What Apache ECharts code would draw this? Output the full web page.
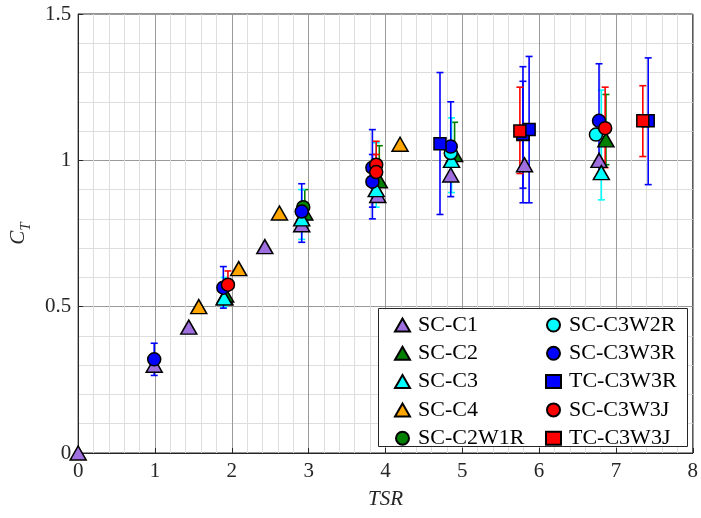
<!DOCTYPE html>
<html>
<head>
<meta charset="utf-8">
<script src="https://cdn.jsdelivr.net/npm/echarts@6/dist/echarts.min.js"></script>
<style>
  html, body { margin: 0; padding: 0; background: #fff; }
  #chart { width: 701px; height: 518px; }
</style>
</head>
<body>
<div id="chart"></div>
<script>
// [TSR, CT, low, high]  (low/high = error bar ends, null when no bar)
var scC1 = [[0, 0], [0.99, 0.30], [1.44, 0.43], [1.91, 0.53], [2.43, 0.705], [2.91, 0.78],
  [3.9, 0.88], [4.85, 0.95], [5.81, 0.985], [6.78, 1.0]];
var scC2 = [[1.92, 0.54, 0.51, 0.58], [2.95, 0.82, 0.77, 0.90], [3.92, 0.93, 0.88, 1.05],
  [4.9, 1.02, 0.985, 1.13], [6.87, 1.07, 0.985, 1.225]];
var scC3 = [[1.9, 0.53, 0.50, 0.60], [2.91, 0.80, 0.73, 0.90], [3.88, 0.90, 0.84, 1.06],
  [4.86, 1.0, 0.89, 1.145], [6.81, 0.958, 0.865, 1.24]];
var scC4 = [[1.57, 0.50], [2.09, 0.63], [2.62, 0.82], [4.19, 1.055]];
var scC2W1R = [[2.93, 0.84]];
var scC3W2R = [[4.85, 1.025], [6.74, 1.088]];
var scC3W3R = [[0.99, 0.32, 0.265, 0.375], [1.89, 0.565, 0.495, 0.637], [2.91, 0.825, 0.72, 0.92],
  [3.83, 0.975, 0.80, 1.105], [3.83, 0.927, 0.84, 1.02], [4.85, 1.047, 0.876, 1.20],
  [6.78, 1.135, 0.94, 1.33]];
var tcC3W3R = [[4.71, 1.057, 0.815, 1.30], [5.79, 1.088, 0.855, 1.32], [5.79, 1.09, 0.905, 1.27],
  [5.87, 1.105, 0.855, 1.355], [7.42, 1.135, 0.917, 1.35]];
var scC3W3J = [[1.95, 0.575, 0.53, 0.622], [3.88, 0.985, 0.89, 1.065], [3.88, 0.96, 0.90, 1.02],
  [6.86, 1.11, 0.975, 1.25]];
var tcC3W3J = [[5.75, 1.10, 0.955, 1.25], [7.35, 1.135, 1.013, 1.255]];

var names = ["SC-C1", "SC-C2", "SC-C3", "SC-C4", "SC-C2W1R", "SC-C3W2R", "SC-C3W3R", "TC-C3W3R", "SC-C3W3J", "TC-C3W3J"];
var sets = [scC1, scC2, scC3, scC4, scC2W1R, scC3W2R, scC3W3R, tcC3W3R, scC3W3J, tcC3W3J];
var colors = ["#9f6fe0", "#008000", "#00ffff", "#ffa500", "#008000", "#00ffff", "#0000ff", "#0000ff", "#ff0000", "#ff0000"];
var shapes = ["triangle", "triangle", "triangle", "triangle", "circle", "circle", "circle", "rect", "circle", "rect"];

var xTicks = [0, 1, 2, 3, 4, 5, 6, 7, 8];
var yTicks = [0, 0.5, 1, 1.5];

var font = "Liberation Serif";

function errBar(color) {
  return function (params, api) {
    var x = api.value(0);
    var top = api.coord([x, api.value(2)]);
    var bot = api.coord([x, api.value(1)]);
    var w = 3.5;
    var st = { stroke: color, lineWidth: 1.6, fill: null };
    return {
      type: "group",
      children: [
        { type: "line", shape: { x1: top[0], y1: top[1], x2: bot[0], y2: bot[1] }, style: st },
        { type: "line", shape: { x1: top[0] - w, y1: top[1], x2: top[0] + w, y2: top[1] }, style: st },
        { type: "line", shape: { x1: bot[0] - w, y1: bot[1], x2: bot[0] + w, y2: bot[1] }, style: st }
      ]
    };
  };
}

var series = [];
sets.forEach(function (d, i) {
  var bars = d.filter(function (p) { return p.length > 2; }).map(function (p) { return [p[0], p[2], p[3]]; });
  if (bars.length) {
    series.push({
      type: "custom",
      name: names[i] + " err",
      renderItem: errBar(colors[i]),
      data: bars,
      silent: true
    });
  }
  var size = shapes[i] === "triangle" ? [16, 14] : (shapes[i] === "rect" ? 12 : 13);
  series.push({
    type: "scatter",
    name: names[i],
    symbol: shapes[i],
    symbolSize: size,
    data: d.map(function (p) { return [p[0], p[1]]; }),
    itemStyle: { color: colors[i], borderColor: "#000", borderWidth: 1.5, opacity: 1 }
  });
});

var legendText = { fontFamily: font, fontSize: 22, color: "#000", lineHeight: 21, padding: [0, 0, 0, 3] };

var option = {
  animation: false,
  backgroundColor: "#fff",
  grid: { left: 76, top: 14, right: 4, bottom: 65, show: true, borderColor: "#262626", borderWidth: 1 },
  xAxis: {
    type: "value", min: 0, max: 8, interval: 1,
    name: "TSR", nameLocation: "middle", nameGap: 36,
    nameTextStyle: { fontFamily: font, fontSize: 21, fontStyle: "italic", color: "#262626" },
    axisLine: { show: true, lineStyle: { color: "#262626" } },
    axisTick: { show: true, inside: true, length: 5, lineStyle: { color: "#262626" } },
    axisLabel: {
      margin: 8, fontFamily: font, fontSize: 21, color: "#262626",
      formatter: function (v) { return xTicks.indexOf(v) >= 0 ? String(v) : ""; }
    },
    splitLine: { show: true, lineStyle: { color: "#9a9a9a", width: 1 } },
    minorTick: { show: false, splitNumber: 5 },
    minorSplitLine: { show: true, lineStyle: { color: "#dedede", width: 1 } }
  },
  yAxis: {
    type: "value", min: 0, max: 1.5, interval: 0.5,
    name: "{c|C}{s|T}", nameLocation: "middle", nameGap: 36, nameRotate: 90,
    nameTextStyle: {
      rich: {
        c: { fontFamily: font, fontSize: 21, fontStyle: "italic", color: "#262626", verticalAlign: "bottom" },
        s: { fontFamily: font, fontSize: 15, fontStyle: "italic", color: "#262626", verticalAlign: "bottom", padding: [0, 0, -5, 0] }
      }
    },
    axisLine: { show: true, lineStyle: { color: "#262626" } },
    axisTick: { show: true, inside: true, length: 5, lineStyle: { color: "#262626" } },
    axisLabel: {
      margin: 7, fontFamily: font, fontSize: 21, color: "#262626",
      formatter: function (v) { return yTicks.indexOf(v) >= 0 ? String(v) : ""; }
    },
    splitLine: { show: true, lineStyle: { color: "#9a9a9a", width: 1 } },
    minorTick: { show: false, splitNumber: 5 },
    minorSplitLine: { show: true, lineStyle: { color: "#dedede", width: 1 } }
  },
  legend: [
    {
      data: names.slice(0, 5), orient: "vertical", left: 389, top: 309, z: 120,
      itemWidth: 15, itemHeight: 13, itemGap: 6.3, textStyle: legendText,
      selectedMode: false
    },
    {
      data: names.slice(5), orient: "vertical", left: 540, top: 309, z: 120,
      itemWidth: 15, itemHeight: 13, itemGap: 6.3, textStyle: legendText,
      selectedMode: false
    }
  ],
  graphic: [{
    type: "rect", left: 378, top: 308, z: 100,
    shape: { width: 309, height: 138 },
    style: { fill: "#fff", stroke: "#262626", lineWidth: 1 }
  }],
  series: series
};

var myChart = echarts.init(document.getElementById("chart"));
myChart.setOption(option);
</script>
</body>
</html>
